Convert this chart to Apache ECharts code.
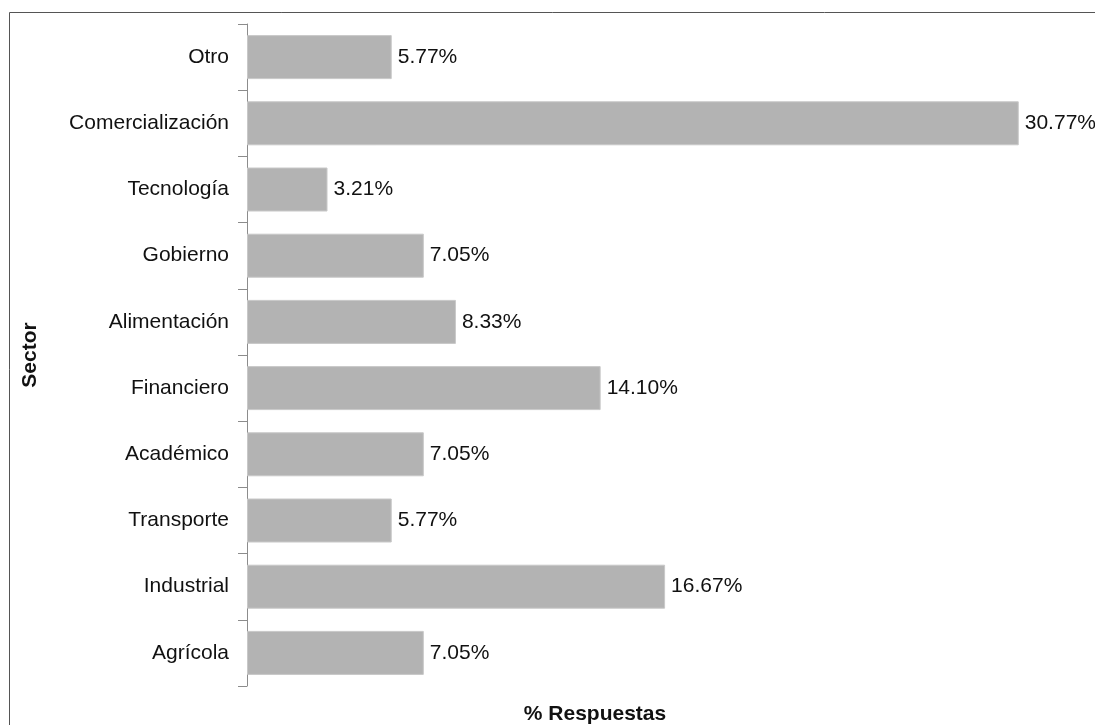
<!DOCTYPE html>
<html>
<head>
<meta charset="utf-8">
<script src="https://cdn.jsdelivr.net/npm/echarts@6/dist/echarts.min.js"></script>
<style>
  html, body { margin: 0; padding: 0; background: #ffffff; }
  #chart { width: 1095px; height: 725px; }
</style>
</head>
<body>
<div id="chart"></div>
<script>
// Sector breakdown of survey responses (percent), bottom to top
const sectors = ['Agrícola', 'Industrial', 'Transporte', 'Académico', 'Financiero',
                 'Alimentación', 'Gobierno', 'Tecnología', 'Comercialización', 'Otro'];
const shares = [7.05, 16.67, 5.77, 7.05, 14.10, 8.33, 7.05, 3.21, 30.77, 5.77];
const xTitle = '% Respuestas';
const yTitle = 'Sector';

const FONT = '"Liberation Sans", Arial, sans-serif';
const chart = echarts.init(document.getElementById('chart'), null, { renderer: 'canvas' });

chart.setOption({
  animation: false,
  backgroundColor: '#ffffff',
  grid: { left: 247, top: 24, right: 1, height: 662, containLabel: false },
  xAxis: {
    type: 'value',
    min: 0,
    max: 33.77,
    axisLine: { show: false },
    axisTick: { show: false },
    axisLabel: { show: false },
    splitLine: { show: false }
  },
  yAxis: {
    type: 'category',
    data: sectors,
    name: yTitle,
    nameLocation: 'middle',
    nameRotate: 90,
    nameGap: 206,
    nameTextStyle: { fontFamily: FONT, fontSize: 21, fontWeight: 'bold', color: '#111111' },
    axisLine: { show: true, lineStyle: { color: '#8c8c8c', width: 1 } },
    axisTick: { show: true, length: 9, alignWithLabel: false, lineStyle: { color: '#8c8c8c', width: 1 } },
    axisLabel: { margin: 18, fontFamily: FONT, fontSize: 21, color: '#111111' }
  },
  series: [{
    type: 'bar',
    data: shares,
    barWidth: 44,
    itemStyle: { color: '#b3b3b3', borderColor: '#c8c8c8', borderWidth: 1 },
    label: {
      show: true,
      position: 'right',
      distance: 6,
      fontFamily: FONT,
      fontSize: 21,
      color: '#111111',
      formatter: p => p.value.toFixed(2) + '%'
    }
  }],
  graphic: [
    {
      type: 'rect',
      silent: true,
      z: -1,
      shape: { x: 9.5, y: 12.5, width: 1300, height: 900 },
      style: { fill: 'none', stroke: '#555555', lineWidth: 1 }
    },
    {
      type: 'text',
      silent: true,
      x: 595,
      y: 714,
      style: {
        text: xTitle,
        font: 'bold 21px ' + FONT,
        fill: '#111111',
        textAlign: 'center',
        textVerticalAlign: 'middle'
      }
    }
  ]
});
</script>
</body>
</html>
